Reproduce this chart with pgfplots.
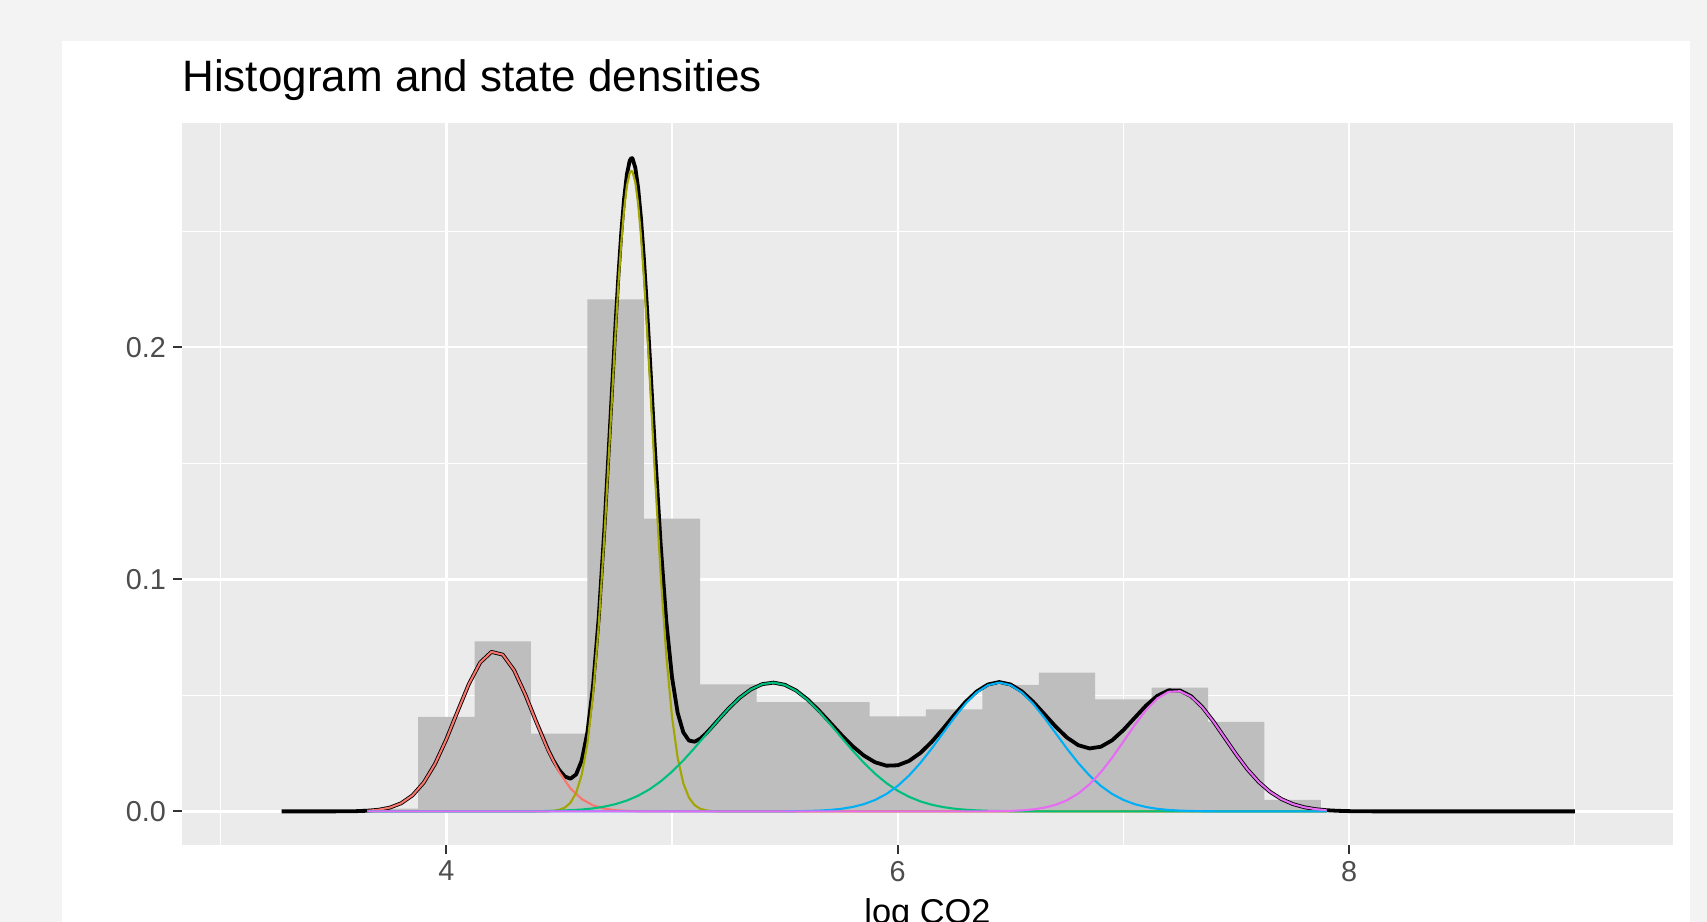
\documentclass[border=0pt]{standalone}
\usepackage{pgfplots}
\pgfplotsset{compat=1.18}
\usepackage{fontspec}
\setmainfont{Liberation Sans}
\definecolor{outerbg}{RGB}{243,243,243}
\definecolor{panelbg}{RGB}{235,235,235}
\definecolor{histgray}{RGB}{190,190,190}
\definecolor{tickgray}{RGB}{51,51,51}
\definecolor{ticklab}{RGB}{77,77,77}
\definecolor{cR}{HTML}{F8766D}
\definecolor{cY}{HTML}{A3A500}
\definecolor{cG}{HTML}{00BF7D}
\definecolor{cB}{HTML}{00B0F6}
\definecolor{cM}{HTML}{E76BF3}
\begin{document}
\begin{tikzpicture}
\useasboundingbox (0,0) rectangle (853.5bp,461bp);
\clip (0,0) rectangle (853.5bp,461bp);
\fill[outerbg] (0,0) rectangle (853.5bp,461bp);
\fill[white] (31bp,0) rectangle (845bp,440.65bp);
\begin{axis}[
  at={(91bp,38.5bp)}, anchor=south west,
  scale only axis, width=745.5bp, height=360.85bp,
  xmin=2.829, xmax=9.435, ymin=-0.01448, ymax=0.2965,
  enlargelimits=false,
  axis line style={draw=none},
  axis background/.style={fill=panelbg},
  xtick={4,6,8}, xticklabels={4,6,8},
  minor xtick={3,5,7,9},
  ytick={0,0.1,0.2}, yticklabels={0.0,0.1,0.2},
  minor ytick={0.05,0.15,0.25},
  grid=both,
  major grid style={white, line width=1.2bp},
  minor grid style={white, line width=0.6bp},
  tick pos=left, tick align=outside,
  major tick length=4.5bp, minor tick length=0pt,
  tick style={color=tickgray, line width=1.1bp},
  /pgf/number format/assume math mode=true,
  tick label style={font=\fontsize{14.4bp}{16bp}\selectfont, text=ticklab},
  title={Histogram and state densities},
  title style={at={(axis description cs:0,1)}, anchor=base west, yshift=9.8bp, inner sep=0pt, font=\fontsize{22bp}{26bp}\selectfont, text=black},
  xlabel={log CO2},
  xlabel style={at={(axis description cs:0.5,0)}, anchor=base, yshift=-39.5bp, inner sep=0pt, font=\fontsize{17.2bp}{20bp}\selectfont, text=black},
]
% histogram
\addplot[ybar interval, fill=histgray, draw=none] coordinates {
(3.625,0.0012) (3.875,0.0407) (4.125,0.0733) (4.375,0.0335) (4.625,0.2206) (4.875,0.1261) (5.125,0.0547) (5.375,0.0471) (5.625,0.0471) (5.875,0.0409) (6.125,0.0440) (6.375,0.0545) (6.625,0.0598) (6.875,0.0483) (7.125,0.0533) (7.375,0.0386) (7.625,0.0050) (7.875,0)
};
% mixture density
\addplot[black, line width=1.9bp, line join=round, mark=none] coordinates {
(3.27,0) (3.5,0.00001) (3.6,0.0001) (3.65,0.000275) (3.7,0.000702) (3.75,0.001637) (3.8,0.003505) (3.85,0.006887) (3.9,0.01239) (3.95,0.02047) (4.0,0.03101) (4.05,0.04308) (4.1,0.05489) (4.15,0.06414) (4.2,0.06873) (4.25,0.06755) (4.3,0.06089) (4.35,0.05034) (4.4,0.03826) (4.45,0.02678) (4.475,0.02187) (4.5,0.01786) (4.525,0.01506) (4.55,0.01410) (4.575,0.01591) (4.6,0.02193) (4.625,0.03398) (4.65,0.05396) (4.675,0.08312) (4.7,0.12112) (4.725,0.16526) (4.75,0.21027) (4.7625,0.2309) (4.775,0.24903) (4.7875,0.26379) (4.8,0.27442) (4.8125,0.28036) (4.82,0.28156) (4.825,0.28135) (4.8375,0.27732) (4.85,0.26854) (4.8625,0.2555) (4.875,0.23891) (4.8875,0.21965) (4.9,0.19863) (4.925,0.15501) (4.95,0.11463) (4.975,0.08169) (5.0,0.05780) (5.025,0.04250) (5.05,0.03408) (5.075,0.03052) (5.1,0.03004) (5.125,0.03132) (5.15,0.03352) (5.175,0.03614) (5.2,0.03889) (5.25,0.04427) (5.3,0.04898) (5.35,0.05260) (5.4,0.05483) (5.45,0.05549) (5.5,0.05455) (5.55,0.05207) (5.6,0.04828) (5.65,0.04356) (5.7,0.03833) (5.75,0.03302) (5.8,0.02812) (5.85,0.02405) (5.9,0.02115) (5.95,0.01970) (6.0,0.01987) (6.05,0.02173) (6.1,0.02516) (6.15,0.02990) (6.2,0.03553) (6.25,0.04148) (6.3,0.04709) (6.35,0.05167) (6.4,0.05469) (6.45,0.05573) (6.5,0.05469) (6.55,0.05171) (6.6,0.04724) (6.65,0.04191) (6.7,0.03652) (6.75,0.03182) (6.8,0.02853) (6.85,0.02713) (6.9,0.02786) (6.95,0.03064) (7.0,0.03505) (7.05,0.04033) (7.1,0.04556) (7.15,0.04977) (7.2,0.05214) (7.25,0.05212) (7.3,0.04961) (7.35,0.04490) (7.4,0.03862) (7.45,0.03154) (7.5,0.02449) (7.55,0.01805) (7.6,0.01264) (7.65,0.00841) (7.7,0.00531) (7.75,0.00318) (7.8,0.00181) (7.85,0.00098) (7.9,0.0005) (7.95,0.00025) (8.0,0.00011) (8.1,0.00002) (8.2,0) (9.0,0)
};
% state 1
\addplot[cR, line width=1.05bp, line join=round, mark=none] coordinates {
(3.65,0.000275) (3.7,0.000702) (3.75,0.001637) (3.8,0.003505) (3.85,0.006887) (3.9,0.01239) (3.95,0.02047) (4.0,0.03101) (4.05,0.04308) (4.1,0.05489) (4.15,0.06414) (4.2,0.06873) (4.25,0.06755) (4.3,0.06089) (4.35,0.05034) (4.4,0.03817) (4.45,0.02654) (4.5,0.01693) (4.55,0.0099) (4.6,0.00531) (4.65,0.00261) (4.7,0.00118) (4.75,0.00049) (4.8,0.00019) (4.85,0.00006) (4.9,0.00002) (5.0,0) (7.9,0)
};
% state 2
\addplot[cY, line width=1.05bp, line join=round, mark=none] coordinates {
(3.65,0) (4.35,0) (4.4,0.00001) (4.45,0.000085) (4.475,0.000244) (4.5,0.000651) (4.525,0.001616) (4.55,0.003721) (4.575,0.00796) (4.6,0.01582) (4.625,0.0292) (4.65,0.05005) (4.675,0.07971) (4.7,0.11789) (4.725,0.16195) (4.75,0.20664) (4.7625,0.22703) (4.775,0.24488) (4.7875,0.2593) (4.8,0.26955) (4.8125,0.27508) (4.82,0.276) (4.825,0.27559) (4.8375,0.27105) (4.85,0.26171) (4.8625,0.24807) (4.875,0.23083) (4.8875,0.21087) (4.9,0.18912) (4.925,0.14389) (4.95,0.1017) (4.975,0.06676) (5.0,0.0407) (5.025,0.02305) (5.05,0.01213) (5.075,0.005926) (5.1,0.002689) (5.125,0.001134) (5.15,0.000444) (5.175,0.000161) (5.2,0.000055) (5.25,0) (7.9,0)
};
% state 3
\addplot[cG, line width=1.05bp, line join=round, mark=none] coordinates {
(3.65,0) (4.2,0) (4.3,0.00003) (4.4,0.000084) (4.5,0.000275) (4.6,0.000795) (4.65,0.001294) (4.7,0.002047) (4.75,0.003141) (4.8,0.004681) (4.85,0.006766) (4.9,0.009491) (4.95,0.01293) (5.0,0.0171) (5.05,0.02195) (5.1,0.02735) (5.15,0.03308) (5.2,0.03884) (5.25,0.04427) (5.3,0.04898) (5.35,0.0526) (5.4,0.05483) (5.45,0.05549) (5.5,0.05451) (5.55,0.05198) (5.6,0.04811) (5.65,0.04323) (5.7,0.03771) (5.75,0.03192) (5.8,0.02623) (5.85,0.02093) (5.9,0.01621) (5.95,0.01219) (6.0,0.00889) (6.05,0.0063) (6.1,0.00433) (6.15,0.00289) (6.2,0.00187) (6.25,0.00118) (6.3,0.00072) (6.35,0.00043) (6.4,0.00025) (6.5,0.00007) (6.6,0.00002) (6.7,0) (7.9,0)
};
% state 4
\addplot[cB, line width=1.05bp, line join=round, mark=none] coordinates {
(3.65,0) (5.4,0) (5.5,0.00004) (5.55,0.000085) (5.6,0.000171) (5.65,0.000332) (5.7,0.000617) (5.75,0.001101) (5.8,0.00189) (5.85,0.003115) (5.9,0.004935) (5.95,0.007511) (6.0,0.01098) (6.05,0.01543) (6.1,0.02083) (6.15,0.02701) (6.2,0.03366) (6.25,0.0403) (6.3,0.04636) (6.35,0.05123) (6.4,0.0544) (6.45,0.0555) (6.5,0.0544) (6.55,0.05123) (6.6,0.04636) (6.65,0.0403) (6.7,0.03366) (6.75,0.02701) (6.8,0.02083) (6.85,0.01543) (6.9,0.01098) (6.95,0.007511) (7.0,0.004935) (7.05,0.003115) (7.1,0.00189) (7.15,0.001101) (7.2,0.000617) (7.25,0.000332) (7.3,0.000171) (7.35,0.000085) (7.4,0.00004) (7.5,0) (7.9,0)
};
% state 5
\addplot[cM, line width=1.05bp, line join=round, mark=none] coordinates {
(3.65,0) (6.2,0) (6.3,0.000007) (6.4,0.000042) (6.45,0.000097) (6.5,0.000211) (6.55,0.000438) (6.6,0.000862) (6.65,0.00161) (6.7,0.002857) (6.75,0.004813) (6.8,0.007701) (6.85,0.0117) (6.9,0.01688) (6.95,0.02313) (7.0,0.03011) (7.05,0.03721) (7.1,0.04367) (7.15,0.04867) (7.2,0.05152) (7.25,0.05179) (7.3,0.04944) (7.35,0.04481) (7.4,0.03858) (7.45,0.03154) (7.5,0.02449) (7.55,0.01805) (7.6,0.01264) (7.65,0.00841) (7.7,0.00531) (7.75,0.00318) (7.8,0.00181) (7.85,0.00098) (7.9,0.0005)
};
\end{axis}
\end{tikzpicture}
\end{document}
